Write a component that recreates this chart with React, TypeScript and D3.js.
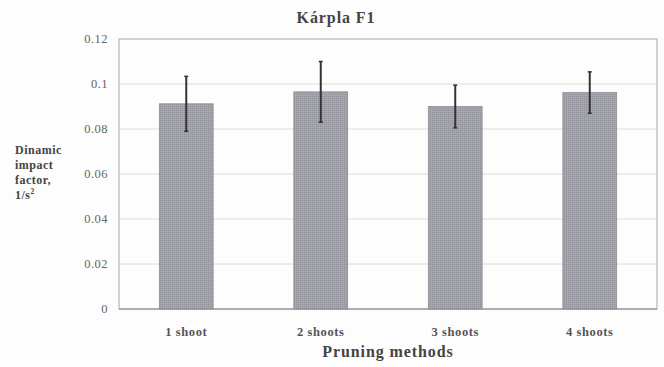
import React from "react";
import * as d3 from "d3";

const title = "Kárpla F1";
const categories = ["1 shoot", "2 shoots", "3 shoots", "4 shoots"];
const means = [0.0912, 0.0965, 0.0900, 0.0962];
const errors = [0.0122, 0.0135, 0.0095, 0.0092];
const yTicks = [0, 0.02, 0.04, 0.06, 0.08, 0.1, 0.12];
const yTickLabels = ["0", "0.02", "0.04", "0.06", "0.08", "0.1", "0.12"];
const yLabelLines = ["Dinamic", "impact", "factor,", "1/s"];
const xLabel = "Pruning methods";

const W = 664;
const H = 367;
const plot = { left: 119, right: 657, top: 39, bottom: 309 };
const font = "'Liberation Serif', 'DejaVu Serif', serif";

export default function App() {
  const x = d3
    .scaleBand<string>()
    .domain(categories)
    .range([plot.left, plot.right])
    .paddingInner(0.6)
    .paddingOuter(0.3);
  const y = d3.scaleLinear().domain([0, 0.12]).range([plot.bottom, plot.top]);

  return (
    <div style={{ position: "absolute", left: 0, top: 0 }}>
      <svg width={W} height={H} style={{ display: "block", background: "#fdfdfd" }}>
        <defs>
          <pattern id="dots" width="2" height="2" patternUnits="userSpaceOnUse">
            <rect width="2" height="2" fill="#a6a6ac" />
            <rect width="1" height="1" fill="#8e8e96" />
          </pattern>
        </defs>
        {/* gridlines */}
        {yTicks.slice(1, -1).map((t) => (
          <line
            key={t}
            x1={plot.left}
            x2={plot.right}
            y1={y(t)}
            y2={y(t)}
            stroke="#dcdcdc"
            strokeWidth={1}
          />
        ))}
        {/* plot frame */}
        <rect
          x={plot.left}
          y={plot.top}
          width={plot.right - plot.left}
          height={plot.bottom - plot.top}
          fill="none"
          stroke="#a8a8a8"
          strokeWidth={1}
        />
        <line x1={plot.left} x2={plot.right} y1={y(0)} y2={y(0)} stroke="#8a8a8a" strokeWidth={1.2} />
        {/* y tick labels */}
        {yTicks.map((t, i) => (
          <text
            key={t}
            x={108}
            y={y(t)}
            dy="0.35em"
            textAnchor="end"
            fontFamily={font}
            fontSize={12.5}
            letterSpacing={0.5}
            fill="#666"
          >
            {yTickLabels[i]}
          </text>
        ))}
        {/* bars */}
        {categories.map((c, i) => (
          <rect
            key={c}
            x={x(c)}
            y={y(means[i])}
            width={x.bandwidth()}
            height={y(0) - y(means[i])}
            fill="url(#dots)"
            stroke="#8c8c94"
            strokeWidth={0.8}
          />
        ))}
        {/* error bars */}
        {categories.map((c, i) => {
          const cx = (x(c) ?? 0) + x.bandwidth() / 2;
          const top = y(means[i] + errors[i]);
          const bot = y(means[i] - errors[i]);
          return (
            <g key={c} stroke="#333" strokeWidth={2}>
              <line x1={cx} x2={cx} y1={top} y2={bot} />
              <line x1={cx - 2} x2={cx + 2} y1={top} y2={top} strokeWidth={1.5} />
              <line x1={cx - 2} x2={cx + 2} y1={bot} y2={bot} strokeWidth={1.5} />
            </g>
          );
        })}
        {/* category labels */}
        {categories.map((c) => (
          <text
            key={c}
            x={(x(c) ?? 0) + x.bandwidth() / 2}
            y={332}
            dy="0.35em"
            textAnchor="middle"
            fontFamily={font}
            fontSize={12.5}
            letterSpacing={0.6}
            fontWeight="bold"
            fill="#555"
          >
            {c}
          </text>
        ))}
        {/* title */}
        <text
          x={336}
          y={17}
          dy="0.35em"
          textAnchor="middle"
          fontFamily={font}
          fontSize={16}
          letterSpacing={0.9}
          fontWeight="bold"
          fill="#444"
        >
          {title}
        </text>
        {/* x axis title */}
        <text
          x={388}
          y={351}
          dy="0.35em"
          textAnchor="middle"
          fontFamily={font}
          fontSize={16}
          letterSpacing={0.9}
          fontWeight="bold"
          fill="#444"
        >
          {xLabel}
        </text>
        {/* y axis title */}
        <text fontFamily={font} fontSize={12} letterSpacing={0.5} fontWeight="bold" fill="#444">
          {yLabelLines.map((line, i) => (
            <tspan key={line} x={15} y={154 + i * 15}>
              {line}
              {i === yLabelLines.length - 1 ? (
                <tspan fontSize={7.5} dy={-5}>
                  2
                </tspan>
              ) : null}
            </tspan>
          ))}
        </text>
      </svg>
    </div>
  );
}
